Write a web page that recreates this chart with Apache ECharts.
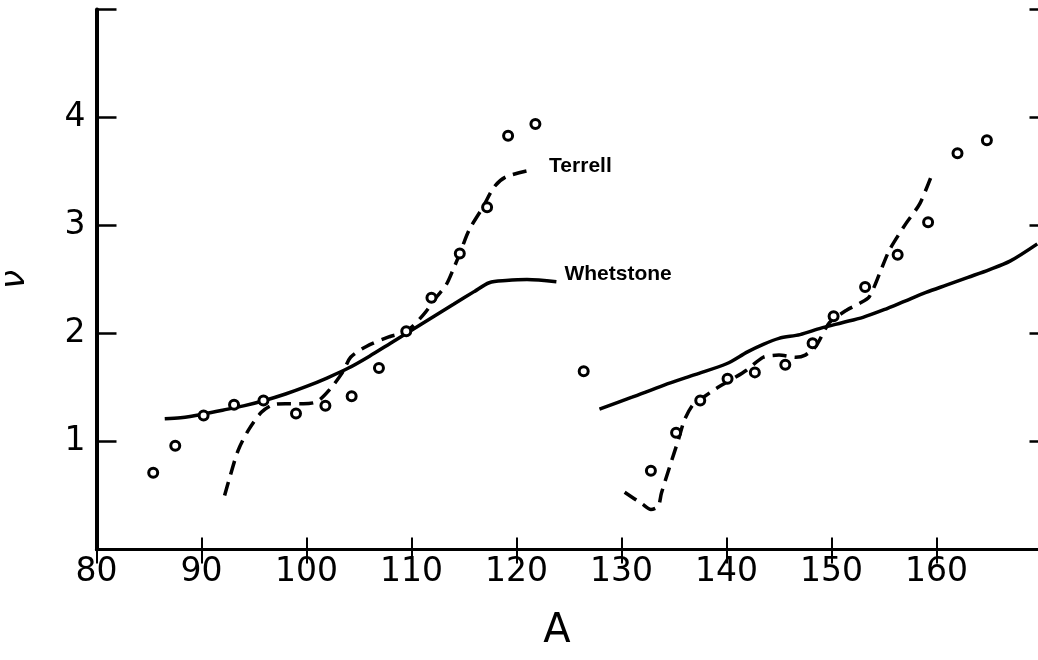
<!DOCTYPE html>
<html><head><meta charset="utf-8">
<script src="https://cdn.jsdelivr.net/npm/echarts@6/dist/echarts.min.js"></script>
<style>html,body{margin:0;padding:0;background:#fff}#c{width:1038px;height:660px}</style>
</head><body><div id="c"></div>
<script>
// Measured points
const measuredA  = [85.4, 87.5, 90.2, 93.1, 95.9, 99.0, 101.8, 104.3, 106.9, 109.5, 111.9, 114.6, 117.2, 119.2, 121.8, 126.4, 132.8, 135.2, 137.5, 140.1, 142.7, 145.6, 148.2, 150.2, 153.2, 156.3, 159.2, 162.0, 164.8];
const measuredNu = [0.71, 0.96, 1.24, 1.34, 1.38, 1.26, 1.33, 1.42, 1.68, 2.02, 2.33, 2.74, 3.17, 3.83, 3.94, 1.65, 0.73, 1.08, 1.38, 1.58, 1.64, 1.71, 1.91, 2.16, 2.43, 2.73, 3.03, 3.67, 3.79];
// Whetstone (solid)
const whetLeftA  = [86.5, 88, 90, 92, 94, 96, 98, 100, 102, 104, 106, 108, 110, 112, 114, 116, 117.4, 119, 121, 123.8];
const whetLeftNu = [1.21, 1.22, 1.25, 1.29, 1.33, 1.38, 1.44, 1.51, 1.59, 1.68, 1.79, 1.91, 2.03, 2.15, 2.27, 2.39, 2.47, 2.49, 2.50, 2.48];
const whetRightA  = [127.9, 131, 134, 137, 140, 142, 143.5, 145, 147, 149, 151, 153, 155, 157, 159, 161, 163, 165, 167, 169.6];
const whetRightNu = [1.30, 1.41, 1.52, 1.62, 1.72, 1.83, 1.90, 1.955, 1.99, 2.05, 2.10, 2.15, 2.22, 2.30, 2.38, 2.45, 2.52, 2.59, 2.67, 2.83];
// Terrell (dashed)
const terLeftA  = [92.2, 92.7, 93.5, 94.5, 95.7, 96.8, 98, 99.7, 101, 102.2, 103.5, 104.2, 105.7, 107.9, 109.5, 111.1, 112.4, 113.3, 114, 114.6, 115.5, 116.8, 117.9, 119, 121.2];
const terLeftNu = [0.50, 0.67, 0.92, 1.11, 1.27, 1.34, 1.35, 1.35, 1.37, 1.48, 1.65, 1.78, 1.88, 1.97, 2.02, 2.17, 2.34, 2.45, 2.60, 2.74, 2.96, 3.17, 3.36, 3.45, 3.51];
const terRightA  = [130.3, 132.0, 132.8, 133.5, 133.8, 134.6, 135.4, 136.0, 136.8, 137.8, 139.0, 140.6, 141.9, 143.5, 145.0, 146.6, 147.5, 148.5, 149.8, 151.5, 152.7, 153.6, 154.6, 155.5, 157.1, 158.4, 159.6];
const terRightNu = [0.53, 0.42, 0.37, 0.40, 0.52, 0.77, 1.01, 1.20, 1.34, 1.41, 1.49, 1.58, 1.66, 1.78, 1.80, 1.78, 1.80, 1.88, 2.10, 2.22, 2.28, 2.34, 2.56, 2.77, 3.02, 3.20, 3.48];
// Tick labels
const xTickLabels = [80, 90, 100, 110, 120, 130, 140, 150, 160];
const yTickLabels = [1, 2, 3, 4];
const xName = 'A', yName = 'ν';
const curveNames = ['Terrell', 'Whetstone'];

const zip = (a, b) => a.map((v, i) => [v, b[i]]);
const tickFont = {fontFamily: 'DejaVu Sans', fontWeight: 'normal', fontSize: 33, color: '#000'};
const lineSolid = {color: '#000', width: 3.5};
const lineDash = {color: '#000', width: 3.5, type: [14, 8]};

const chart = echarts.init(document.getElementById('c'), null, {renderer: 'canvas'});
chart.setOption({
  animation: false,
  backgroundColor: '#fff',
  grid: {left: 96.5, right: -3.5, top: 9.5, bottom: 110.5, containLabel: false, outerBoundsMode: 'none'},
  xAxis: [{
    type: 'value', min: 80, max: 170, interval: 10, position: 'bottom',
    name: xName, nameLocation: 'middle', nameGap: 62,
    nameTextStyle: {fontFamily: 'DejaVu Sans', fontWeight: 'normal', fontSize: 40, color: '#000', padding: [0, 24, 0, 0]},
    axisLine: {show: true, lineStyle: {color: '#000', width: 3}},
    axisTick: {show: true, inside: true, length: 12, lineStyle: {color: '#000', width: 2}},
    axisLabel: Object.assign({margin: 6, formatter: v => xTickLabels.includes(v) ? String(v) : ''}, tickFont),
    splitLine: {show: false}
  }, {
    type: 'value', min: 80, max: 170, interval: 10, position: 'top',
    axisLine: {show: true, lineStyle: {color: '#000', width: 3}},
    axisTick: {show: true, inside: true, length: 14, lineStyle: {color: '#000', width: 2}},
    axisLabel: {show: false}, splitLine: {show: false}
  }],
  yAxis: [{
    type: 'value', min: 0, max: 5, interval: 1, position: 'left',
    name: yName, nameLocation: 'middle', nameGap: 64, nameRotate: 90,
    nameTextStyle: {fontFamily: 'DejaVu Sans', fontStyle: 'italic', fontSize: 34, color: '#000'},
    axisLine: {show: true, lineStyle: {color: '#000', width: 4}},
    axisTick: {show: true, inside: true, length: 20, lineStyle: {color: '#000', width: 2.5}},
    axisLabel: Object.assign({margin: 11, formatter: v => yTickLabels.includes(v) ? String(v) : ''}, tickFont),
    splitLine: {show: false}
  }, {
    type: 'value', min: 0, max: 5, interval: 1, position: 'right',
    axisLine: {show: true, lineStyle: {color: '#000', width: 3}},
    axisTick: {show: true, inside: true, length: 12, lineStyle: {color: '#000', width: 2.5}},
    axisLabel: {show: false}, splitLine: {show: false}
  }],
  series: [
    {type: 'line', data: zip(whetLeftA, whetLeftNu), smooth: 0.3, showSymbol: false, lineStyle: lineSolid, z: 2,
     endLabel: {show: true, formatter: curveNames[1], distance: 8, offset: [0, -7], color: '#000',
                fontFamily: 'Liberation Sans', fontWeight: 'bold', fontSize: 21}},
    {type: 'line', data: zip(whetRightA, whetRightNu), smooth: 0.3, showSymbol: false, lineStyle: lineSolid, z: 2},
    {type: 'line', data: zip(terLeftA, terLeftNu), smooth: 0.3, showSymbol: false, lineStyle: lineDash, z: 2,
     endLabel: {show: true, formatter: curveNames[0], distance: 20, offset: [0, -4], color: '#000',
                fontFamily: 'Liberation Sans', fontWeight: 'bold', fontSize: 21}},
    {type: 'line', data: zip(terRightA, terRightNu), smooth: 0.25, showSymbol: false, lineStyle: lineDash, z: 2},
    {type: 'scatter', data: zip(measuredA, measuredNu), symbol: 'circle', symbolSize: 9,
     itemStyle: {color: '#fff', borderColor: '#000', borderWidth: 3, opacity: 1}, z: 5}
  ]
});
</script></body></html>
